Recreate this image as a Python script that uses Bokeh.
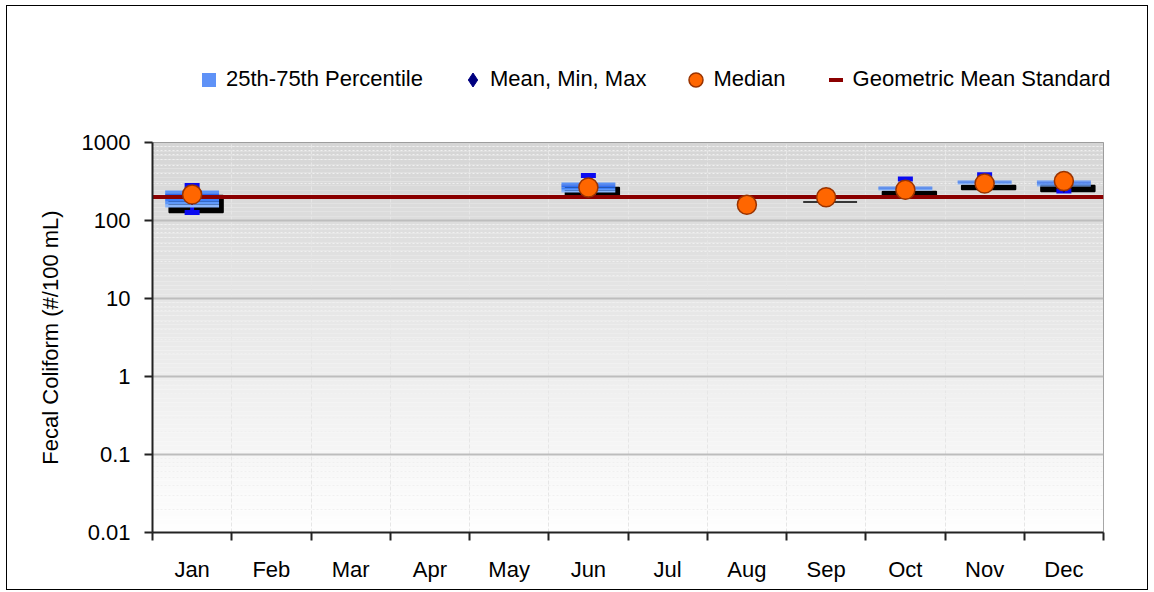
import numpy as np
from bokeh.plotting import figure
from bokeh.layouts import column
from bokeh.models import Range1d, FixedTicker, Legend, LegendItem
from bokeh.embed import file_html
from bokeh.resources import INLINE

nan = float("nan")

# ---------------- data ----------------
months = ["Jan", "Feb", "Mar", "Apr", "May", "Jun", "Jul", "Aug", "Sep", "Oct", "Nov", "Dec"]
pct25 = [147, nan, nan, nan, nan, 229, nan, nan, 200, 243, 289, 273]
pct75 = [243, nan, nan, nan, nan, 307, nan, nan, 200, 273, 326, 326]
val_min = [127, nan, nan, nan, nan, 225, nan, 159, 195, 215, 270, 239]
val_max = [281, nan, nan, nan, nan, 378, nan, 159, 205, 340, 385, 330]
val_mean = [200, nan, nan, nan, nan, 270, nan, 159, 200, 260, 310, 290]
val_median = [215, nan, nan, nan, nan, 265, nan, 159, 199, 248, 298, 320]
STANDARD = 200
ytick_values = [0.01, 0.1, 1, 10, 100, 1000]
ytick_labels = ["0.01", "0.1", "1", "10", "100", "1000"]

FONT = "Liberation Sans"
X0, X1 = 0, len(months)
Y0, Y1 = 0.01, 1000

# styles
BOX_ICON = "#5f92f7"
MEAN_COL = "#000080"
MED_FILL, MED_LINE = "#ff6600", "#993300"
STD_COL = "#8b0000"
CAP_COL = "#0a0af0"

LEG_H = 128

p = figure(width=1154, height=592 - LEG_H, y_axis_type="log",
           x_range=Range1d(X0, X1), y_range=Range1d(Y0, Y1),
           output_backend="svg", toolbar_location=None,
           min_border_left=152, min_border_right=51, min_border_top=142 - LEG_H, min_border_bottom=60)
p.frame_align = False
p.background_fill_color = "white"
p.border_fill_alpha = 0
p.outline_line_color = "#8a8a8a"
p.outline_line_width = 1
p.styles = {"box-shadow": ("inset 6px 0 0 0 white, inset -6px 0 0 0 white, inset 0 -2px 0 0 white, "
                           "inset 7px 0 0 0 black, inset -7px 0 0 0 black, inset 0 -3px 0 0 black")}

# ------------- background gradient (plot area) -------------
N = 90
edges = np.logspace(np.log10(Y0), np.log10(Y1), N + 1)
frac = (np.arange(N) + 0.5) / N  # 0 bottom -> 1 top
shade = (255 - frac * (255 - 213)).astype(int)
bg_colors = ["#%02x%02x%02x" % (s, s, s) for s in shade]
bg = p.quad(left=[X0] * N, right=[X1] * N, bottom=edges[:-1], top=edges[1:],
            fill_color=bg_colors, line_color=None)
bg.level = "image"

# ------------- axes -------------
centers = np.arange(len(months)) + 0.5
xt = FixedTicker(ticks=list(centers), minor_ticks=list(range(X0, X1 + 1)))
p.xaxis.ticker = xt
p.xaxis.major_label_overrides = {float(c): m for c, m in zip(centers, months)}
p.xaxis.major_tick_line_color = None
p.xaxis.major_tick_out = 0
p.xaxis.major_tick_in = 0
p.xaxis.minor_tick_line_color = "#222222"
p.xaxis.minor_tick_line_width = 2
p.xaxis.minor_tick_out = 8
p.xaxis.minor_tick_in = 0
p.xaxis.axis_line_color = "#222222"
p.xaxis.axis_line_width = 2
p.xaxis.major_label_standoff = 16
p.xaxis.major_label_text_font = FONT
p.xaxis.major_label_text_font_size = "22px"
p.xaxis.major_label_text_color = "black"

minor_y = [m * 10.0 ** e for e in range(-2, 3) for m in range(2, 10)]
yt = FixedTicker(ticks=ytick_values, minor_ticks=minor_y)
p.yaxis.ticker = yt
p.yaxis.major_label_overrides = dict(zip(ytick_values, ytick_labels))
p.yaxis.minor_tick_line_color = None
p.yaxis.major_tick_line_color = "#222222"
p.yaxis.major_tick_line_width = 2
p.yaxis.major_tick_out = 8
p.yaxis.major_tick_in = 0
p.yaxis.axis_line_color = "#222222"
p.yaxis.axis_line_width = 2
p.yaxis.major_label_standoff = 14
p.yaxis.major_label_text_font = FONT
p.yaxis.major_label_text_font_size = "22px"
p.yaxis.major_label_text_color = "black"
p.yaxis.axis_label = "Fecal Coliform (#/100 mL)"
p.yaxis.axis_label_text_font = FONT
p.yaxis.axis_label_text_font_size = "22px"
p.yaxis.axis_label_text_font_style = "normal"
p.yaxis.axis_label_text_color = "black"
p.yaxis.axis_label_standoff = 16

p.xgrid.ticker = xt
p.xgrid.grid_line_color = None
p.xgrid.minor_grid_line_color = "#e6e6e6"
p.xgrid.minor_grid_line_dash = "4 2"
p.xgrid.minor_grid_line_width = 1

p.ygrid.ticker = yt
p.ygrid.grid_line_color = "#bdbdbd"
p.ygrid.grid_line_width = 2
p.ygrid.minor_grid_line_color = "#f0f0f0"
p.ygrid.minor_grid_line_dash = "2 2"
p.ygrid.minor_grid_line_width = 1

# ------------- boxes -------------
BOX_W = 0.68
DX = 4 / 79.25                # shadow offset (px -> category units)
SHADOW_F = 10 ** (-5 / 78)    # shadow offset (px -> log factor)
q25 = np.array(pct25, dtype=float)
q75 = np.array(pct75, dtype=float)

p.quad(left=centers - BOX_W / 2 + DX, right=centers + BOX_W / 2 + DX,
       bottom=q25 * SHADOW_F, top=q75 * SHADOW_F,
       fill_color="black", line_color="black", line_width=1.5)

p.segment(x0=centers, y0=val_min, x1=centers, y1=val_max,
          line_color=CAP_COL, line_width=4)

BOX_SHADES = ["#5a92f8", "#2a66ee", "#2f6ff2", "#3f80f6", "#5e98fa", "#8ab6fd"]  # top -> bottom
ns = len(BOX_SHADES)
ratio = q75 / q25
for k, col in enumerate(BOX_SHADES[::-1]):
    p.quad(left=centers - BOX_W / 2, right=centers + BOX_W / 2,
           bottom=q25 * ratio ** (k / ns), top=q25 * ratio ** ((k + 1) / ns),
           fill_color=col, line_color=None)

p.rect(x=centers, y=val_max, width=15, height=5, width_units="screen", height_units="screen",
       fill_color=CAP_COL, line_color=None)
p.rect(x=centers, y=val_min, width=15, height=5, width_units="screen", height_units="screen",
       fill_color=CAP_COL, line_color=None)

p.scatter(x=centers, y=val_mean, marker="diamond", size=16,
          fill_color=MEAN_COL, line_color=MEAN_COL)

p.line(x=[X0, X1], y=[STANDARD, STANDARD], line_color=STD_COL, line_width=4)

p.scatter(x=centers, y=val_median, marker="circle", size=19,
          fill_color=MED_FILL, line_color=MED_LINE, line_width=1.5)

# ------------- legend (separate strip above the plot) -------------
lf = figure(width=1154, height=LEG_H, x_range=Range1d(0, 1), y_range=Range1d(0, 1),
            output_backend="svg", toolbar_location=None,
            x_axis_location=None, y_axis_location=None, min_border=0)
lf.frame_align = False
lf.outline_line_color = None
lf.grid.visible = False
lf.background_fill_alpha = 0
lf.border_fill_alpha = 0
lf.styles = {"box-shadow": ("inset 6px 0 0 0 white, inset -6px 0 0 0 white, inset 0 5px 0 0 white, "
                            "inset 7px 0 0 0 black, inset -7px 0 0 0 black, inset 0 6px 0 0 black")}

icon_box = lf.scatter(x=[nan], y=[nan], marker="square", size=15, fill_color=BOX_ICON, line_color=None)
icon_mean = lf.scatter(x=[nan], y=[nan], marker="diamond", size=16, fill_color=MEAN_COL, line_color=MEAN_COL)
icon_med = lf.scatter(x=[nan], y=[nan], marker="circle", size=19, fill_color=MED_FILL,
                      line_color=MED_LINE, line_width=1.5)
icon_std = lf.scatter(x=[nan], y=[nan], marker="dash", size=14, line_color=STD_COL, line_width=4)

legend = Legend(items=[LegendItem(label="25th-75th Percentile", renderers=[icon_box]),
                       LegendItem(label="Mean, Min, Max", renderers=[icon_mean]),
                       LegendItem(label="Median", renderers=[icon_med]),
                       LegendItem(label="Geometric Mean Standard", renderers=[icon_std])],
                orientation="horizontal", location=(191, LEG_H - 96.5),
                glyph_width=35, glyph_height=35, label_height=35,
                label_standoff=0, spacing=32, padding=0, margin=0,
                border_line_color=None, background_fill_alpha=0,
                label_text_font=FONT, label_text_font_size="22px", label_text_color="black")
lf.add_layout(legend)

layout = column(lf, p, spacing=0)

open("out.html", "w").write(file_html(layout, INLINE))
